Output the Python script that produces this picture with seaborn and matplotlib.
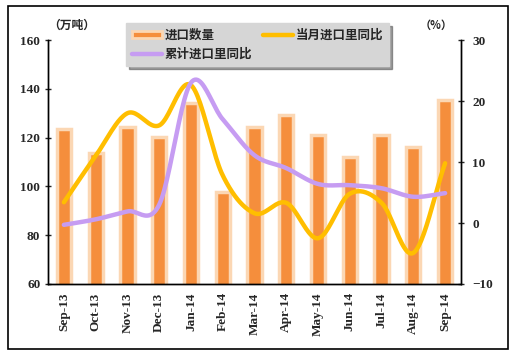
import numpy as np
import pandas as pd
import matplotlib
matplotlib.use("Agg")
import matplotlib.pyplot as plt
import seaborn as sns
from matplotlib.patches import Rectangle
from matplotlib.lines import Line2D

months = ["Sep-13", "Oct-13", "Nov-13", "Dec-13", "Jan-14", "Feb-14", "Mar-14",
          "Apr-14", "May-14", "Jun-14", "Jul-14", "Aug-14", "Sep-14"]
# 进口数量 (万吨)
volume = [123.5, 113.7, 124.4, 120.3, 134.0, 97.7, 124.4,
          129.3, 121.0, 112.0, 121.0, 116.0, 135.4]
# 当月进口里同比 (%)
monthly_yoy = [3.4, 11.0, 18.0, 16.0, 22.6, 7.8, 1.6,
               3.3, -2.5, 4.8, 3.3, -4.9, 9.8]
# 累计进口里同比 (%)
cum_yoy = [-0.3, 0.6, 1.9, 3.0, 23.0, 17.0, 11.1,
           9.0, 6.4, 6.2, 5.7, 4.3, 4.9]

ORANGE = "#F58E3C"
PEACH = "#FBD7B4"
YELLOW = "#FFBE00"
PURPLE = "#C69CF2"

def smooth(y, n=24):
    # catmull-rom curve through the points, like Excel's smoothed line
    p = np.array(y, dtype=float)
    x = np.arange(len(p), dtype=float)
    px = np.concatenate([[2 * x[0] - x[1]], x, [2 * x[-1] - x[-2]]])
    py = np.concatenate([[2 * p[0] - p[1]], p, [2 * p[-1] - p[-2]]])
    xs, ys = [], []
    t = np.linspace(0, 1, n, endpoint=False)
    for i in range(1, len(px) - 2):
        for arr, out in ((px, xs), (py, ys)):
            p0, p1, p2, p3 = arr[i - 1], arr[i], arr[i + 1], arr[i + 2]
            out.extend(0.5 * (2 * p1 + (-p0 + p2) * t
                              + (2 * p0 - 5 * p1 + 4 * p2 - p3) * t ** 2
                              + (-p0 + 3 * p1 - 3 * p2 + p3) * t ** 3))
    xs.append(x[-1]); ys.append(p[-1])
    return pd.DataFrame({"x": xs, "y": ys})

sns.set_style("white")
plt.rcParams["font.family"] = ["Liberation Serif", "Noto Sans CJK SC"]
plt.rcParams["font.weight"] = "bold"

fig = plt.figure(figsize=(5.18, 3.58), dpi=100)
ax = fig.add_axes([48 / 518, 1 - 284 / 358, 413 / 518, 244 / 358])

df = pd.DataFrame({"month": months, "volume": volume})
sns.barplot(data=df, x="month", y="volume", color=ORANGE, saturation=1,
            width=0.45, edgecolor=PEACH, linewidth=2.5, ax=ax, zorder=2)
ax.set_ylim(60, 160)
ax.set_xlim(-0.5, 12.5)
ax.set_yticks([60, 80, 100, 120, 140, 160])
ax.set_xlabel("")
ax.set_ylabel("")
ax.set_xticks(np.arange(13))
ax.set_xticklabels(months, rotation=90, fontsize=9.5, fontweight="bold")
ax.set_xticks(np.arange(-0.5, 13), minor=True)
ax.tick_params(axis="x", which="major", length=0, pad=6)
ax.tick_params(axis="x", which="minor", length=4, direction="in", width=1)
ax.tick_params(axis="y", length=4, direction="inout", width=1, labelsize=9.5)
for lab in ax.get_yticklabels():
    lab.set_fontweight("bold")

ax2 = ax.twinx()
sns.lineplot(data=smooth(monthly_yoy), x="x", y="y", color=YELLOW, lw=3.2,
             ax=ax2, sort=False, solid_capstyle="round")
sns.lineplot(data=smooth(cum_yoy), x="x", y="y", color=PURPLE, lw=3.2,
             ax=ax2, sort=False, solid_capstyle="round")
ax2.set_ylim(-10, 30)
ax2.set_yticks([-10, 0, 10, 20, 30])
ax2.set_xlim(-0.5, 12.5)
ax2.set_xlabel("")
ax2.set_ylabel("")
ax2.tick_params(axis="y", length=4, direction="inout", width=1, labelsize=9.5, pad=6)
for lab in ax2.get_yticklabels():
    lab.set_fontweight("bold")

for a in (ax, ax2):
    a.spines["top"].set_visible(False)
    for s in ("left", "right", "bottom"):
        a.spines[s].set_color("black")
        a.spines[s].set_linewidth(1)

cjk = ["Noto Sans CJK SC", "DejaVu Sans"]
fig.text(48 / 518, 1 - 25 / 358, "（万吨）", family=cjk, fontsize=8.5,
         fontweight="bold", va="center", ha="left")
fig.text(436 / 518, 1 - 25 / 358, "（%）", family=cjk, fontsize=8,
         fontweight="bold", va="center", ha="center")

handles = [Rectangle((0, 0), 1, 1, facecolor=ORANGE, edgecolor=PEACH, lw=2),
           Line2D([], [], color=PURPLE, lw=3.2),
           Line2D([], [], color=YELLOW, lw=3.2)]
labels = ["进口数量", "累计进口里同比", "当月进口里同比"]
leg = fig.legend(handles, labels, loc="upper left",
                 bbox_to_anchor=(120 / 518, 1 - 17 / 358), ncol=2,
                 prop={"family": cjk, "size": 9, "weight": "bold"},
                 frameon=True, fancybox=False, shadow=True,
                 facecolor="#D6D6D6", edgecolor="#D6D6D6", framealpha=1,
                 handlelength=2.4, handleheight=0.5, handletextpad=0.2,
                 columnspacing=0.9, labelspacing=0.45, borderpad=0.45)

fig.patches.append(Rectangle((8 / 518, 1 - 349 / 358), 500 / 518, 343 / 358,
                             transform=fig.transFigure, fill=False,
                             edgecolor="black", lw=1.2))

fig.savefig("out.png", dpi=100)
